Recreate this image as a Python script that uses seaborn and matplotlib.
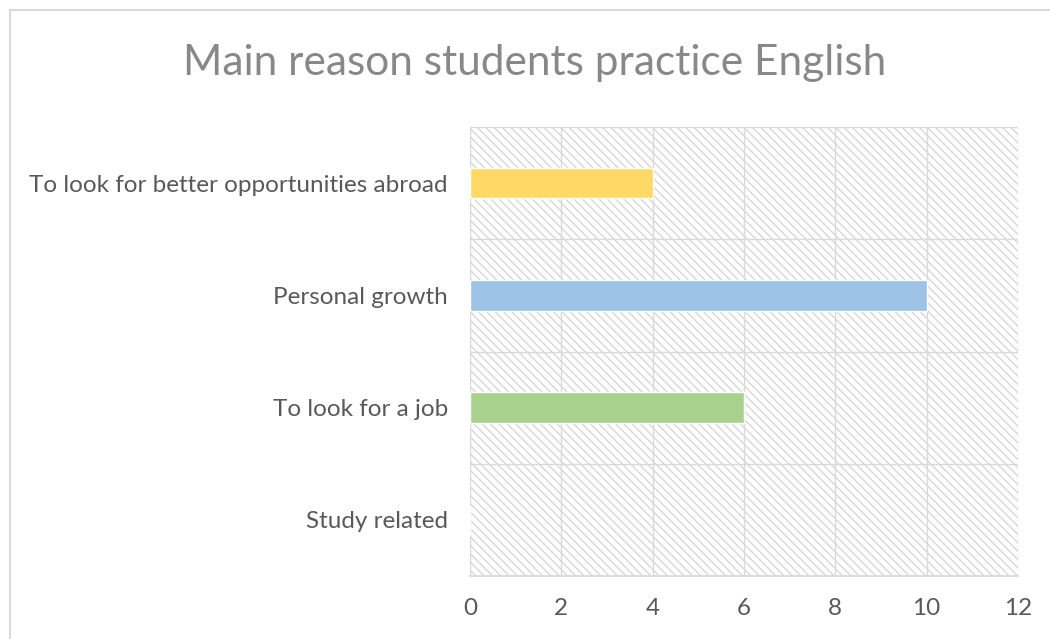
import matplotlib
matplotlib.use("Agg")
import matplotlib.pyplot as plt
import seaborn as sns
import pandas as pd
from matplotlib.patches import Rectangle

categories = ["To look for better opportunities abroad", "Personal growth",
              "To look for a job", "Study related"]
values = [4, 10, 6, 0]
colors = ["#FFD966", "#9DC3E6", "#A9D18E", "#F4B183"]
xticks = [0, 2, 4, 6, 8, 10, 12]
title = "Main reason students practice English"

sns.set_theme(style="white")
plt.rcParams["font.family"] = ["Lato", "DejaVu Sans"]
plt.rcParams["hatch.color"] = "#cfcfcf"
plt.rcParams["hatch.linewidth"] = 0.8

df = pd.DataFrame({"cat": categories, "val": values})

fig = plt.figure(figsize=(10.5, 6.39), dpi=100)
ax = fig.add_axes([470/1050, 1-576/639, (1018-470)/1050, (576-127)/639])

# outer chart frame
fig.patches.append(Rectangle((10/1050, -0.1), 1.2, 1 - 10/639 + 0.1,
                             transform=fig.transFigure, fill=False,
                             edgecolor="#d9d9d9", linewidth=1.5, zorder=0))

# hatched plot area
ax.add_patch(Rectangle((0, 0), 1, 1, transform=ax.transAxes, facecolor="white",
                       edgecolor="#cfcfcf", hatch="\\" * 4, linewidth=0, zorder=0))

sns.barplot(data=df, y="cat", x="val", hue="cat", palette=colors, order=categories,
            hue_order=categories, orient="h", width=0.27, legend=False, ax=ax,
            saturation=1, zorder=3)

ax.set_xlim(0, 12)
ax.set_ylim(3.5, -0.5)
ax.set_xticks(xticks)
ax.set_xticklabels([str(t) for t in xticks])
ax.set_yticks(range(len(categories)))
ax.set_yticks([-0.5, 0.5, 1.5, 2.5, 3.5], minor=True)
ax.tick_params(axis="y", which="major", length=0, pad=16, labelsize=17.5, labelcolor="#595959")
ax.tick_params(axis="y", which="minor", length=6, color="#d9d9d9", width=1)
ax.tick_params(axis="x", which="major", length=0, pad=16, labelsize=17.5, labelcolor="#595959")
ax.grid(True, axis="x", which="major", color="#d9d9d9", linewidth=1, zorder=1)
ax.grid(True, axis="y", which="minor", color="#d9d9d9", linewidth=1, zorder=1)
ax.set_axisbelow(True)
for s in ["top", "right", "left"]:
    ax.spines[s].set_visible(False)
ax.spines["bottom"].set_color("#d9d9d9")
ax.set_xlabel("")
ax.set_ylabel("")

fig.text(535/1050, 1-63/639, title, ha="center", va="center", fontsize=30.5,
         color="#888888", fontweight="normal")

fig.savefig("out.png", dpi=100)
